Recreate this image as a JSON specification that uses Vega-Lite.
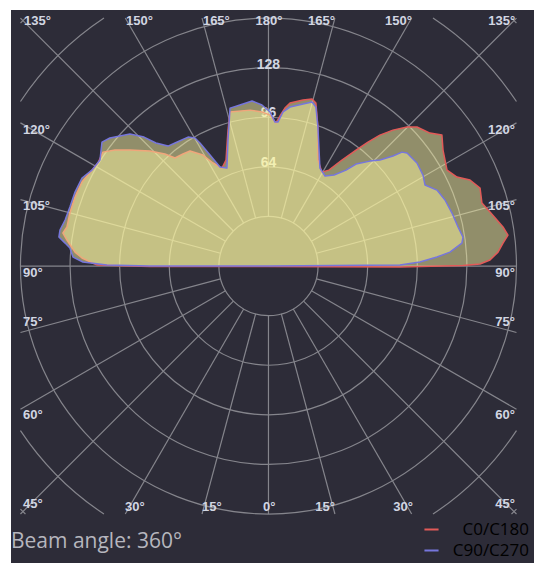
{
  "$schema": "https://vega.github.io/schema/vega-lite/v6.json",
  "width": 523,
  "height": 553,
  "autosize": {"type": "none"},
  "padding": {"left": 11, "top": 10, "right": 0, "bottom": 0},
  "background": "#ffffff",
  "title": {
    "text": "Beam angle: 360°",
    "orient": "bottom",
    "anchor": "start",
    "offset": -32,
    "font": "Open Sans",
    "fontSize": 21,
    "fontWeight": "normal",
    "color": "#b6b6be"
  },
  "config": {
    "view": {"fill": "#2d2c38", "stroke": null}
  },
  "datasets": {
    "rings": [
      {"r": 32, "a0": 0, "a1": 360},
      {"r": 64, "a0": 0, "a1": 360},
      {"r": 96, "a0": 0, "a1": 360},
      {"r": 128, "a0": 0, "a1": 360},
      {"r": 160, "a0": 0, "a1": 360},
      {"r": 192, "a0": 33.56, "a1": 56.44},
      {"r": 192, "a0": 123.56, "a1": 146.44},
      {"r": 192, "a0": 213.56, "a1": 236.44},
      {"r": 192, "a0": 303.56, "a1": 326.44},
      {"r": 224, "a0": 44.42, "a1": 45.58},
      {"r": 224, "a0": 134.42, "a1": 135.58},
      {"r": 224, "a0": 224.42, "a1": 225.58},
      {"r": 224, "a0": 314.42, "a1": 315.58}
    ],
    "spokes": [
      {"x": 0, "y": -32, "x2": 0, "y2": -160},
      {"x": 8.28, "y": -30.91, "x2": 42.87, "y2": -160},
      {"x": 16, "y": -27.71, "x2": 92.38, "y2": -160},
      {"x": 22.63, "y": -22.63, "x2": 160, "y2": -160},
      {"x": 27.71, "y": -16, "x2": 160, "y2": -92.38},
      {"x": 30.91, "y": -8.28, "x2": 160, "y2": -42.87},
      {"x": 32, "y": 0, "x2": 160, "y2": 0},
      {"x": 30.91, "y": 8.28, "x2": 160, "y2": 42.87},
      {"x": 27.71, "y": 16, "x2": 160, "y2": 92.38},
      {"x": 22.63, "y": 22.63, "x2": 160, "y2": 160},
      {"x": 16, "y": 27.71, "x2": 92.38, "y2": 160},
      {"x": 8.28, "y": 30.91, "x2": 42.87, "y2": 160},
      {"x": 0, "y": 32, "x2": 0, "y2": 160},
      {"x": -8.28, "y": -30.91, "x2": -42.87, "y2": -160},
      {"x": -16, "y": -27.71, "x2": -92.38, "y2": -160},
      {"x": -22.63, "y": -22.63, "x2": -160, "y2": -160},
      {"x": -27.71, "y": -16, "x2": -160, "y2": -92.38},
      {"x": -30.91, "y": -8.28, "x2": -160, "y2": -42.87},
      {"x": -32, "y": 0, "x2": -160, "y2": 0},
      {"x": -30.91, "y": 8.28, "x2": -160, "y2": 42.87},
      {"x": -27.71, "y": 16, "x2": -160, "y2": 92.38},
      {"x": -22.63, "y": 22.63, "x2": -160, "y2": 160},
      {"x": -16, "y": 27.71, "x2": -92.38, "y2": 160},
      {"x": -8.28, "y": 30.91, "x2": -42.87, "y2": 160}
    ],
    "labelsLeft": [
      {"x": -157.7, "y": 157.9, "t": "135°"},
      {"x": -91.9, "y": 157.9, "t": "150°"},
      {"x": -42.3, "y": 157.9, "t": "165°"},
      {"x": -158.4, "y": 87.7, "t": "120°"},
      {"x": -158.4, "y": 38.7, "t": "105°"},
      {"x": -158.4, "y": -4.5, "t": "90°"},
      {"x": -158.4, "y": -36.1, "t": "75°"},
      {"x": -158.4, "y": -96.1, "t": "60°"},
      {"x": -158.4, "y": -153.5, "t": "45°"},
      {"x": -92.6, "y": -155.3, "t": "30°"},
      {"x": -42.9, "y": -155.3, "t": "15°"}
    ],
    "labelsCenter": [
      {"x": 0.3, "y": 157.9, "t": "180°"},
      {"x": 0.5, "y": -155.3, "t": "0°"}
    ],
    "labelsRight": [
      {"x": 42.9, "y": 157.9, "t": "165°"},
      {"x": 92.5, "y": 157.9, "t": "150°"},
      {"x": 159.2, "y": 157.9, "t": "135°"},
      {"x": 159.0, "y": 87.7, "t": "120°"},
      {"x": 159.0, "y": 38.7, "t": "105°"},
      {"x": 159.0, "y": -4.5, "t": "90°"},
      {"x": 159.0, "y": -36.1, "t": "75°"},
      {"x": 159.0, "y": -96.1, "t": "60°"},
      {"x": 159.0, "y": -153.5, "t": "45°"},
      {"x": 93.2, "y": -155.3, "t": "30°"},
      {"x": 42.9, "y": -155.3, "t": "15°"}
    ],
    "ringLabels": [
      {"x": 0, "y": 130.0, "t": "128"},
      {"x": 0, "y": 98.7, "t": "96"},
      {"x": 0, "y": 66.5, "t": "64"}
    ],
    "curves": [
      {"series": "C0/C180", "i": 1, "x": -110.6, "y": 0.6},
      {"series": "C0/C180", "i": 2, "x": -120.3, "y": 5.2},
      {"series": "C0/C180", "i": 3, "x": -124.8, "y": 9.0},
      {"series": "C0/C180", "i": 4, "x": -130.0, "y": 16.8},
      {"series": "C0/C180", "i": 5, "x": -132.6, "y": 21.3},
      {"series": "C0/C180", "i": 6, "x": -130.0, "y": 25.2},
      {"series": "C0/C180", "i": 7, "x": -128.1, "y": 34.2},
      {"series": "C0/C180", "i": 8, "x": -124.8, "y": 44.5},
      {"series": "C0/C180", "i": 9, "x": -120.3, "y": 54.2},
      {"series": "C0/C180", "i": 10, "x": -116.5, "y": 58.7},
      {"series": "C0/C180", "i": 11, "x": -110.0, "y": 66.5},
      {"series": "C0/C180", "i": 12, "x": -106.8, "y": 73.5},
      {"series": "C0/C180", "i": 13, "x": -99.0, "y": 74.8},
      {"series": "C0/C180", "i": 14, "x": -89.4, "y": 74.8},
      {"series": "C0/C180", "i": 15, "x": -76.5, "y": 74.2},
      {"series": "C0/C180", "i": 16, "x": -66.8, "y": 72.3},
      {"series": "C0/C180", "i": 17, "x": -60.3, "y": 69.7},
      {"series": "C0/C180", "i": 18, "x": -55.2, "y": 72.3},
      {"series": "C0/C180", "i": 19, "x": -50.6, "y": 74.2},
      {"series": "C0/C180", "i": 20, "x": -42.3, "y": 71.6},
      {"series": "C0/C180", "i": 21, "x": -35.8, "y": 66.5},
      {"series": "C0/C180", "i": 22, "x": -30.0, "y": 63.2},
      {"series": "C0/C180", "i": 23, "x": -27.4, "y": 68.4},
      {"series": "C0/C180", "i": 24, "x": -26.1, "y": 87.7},
      {"series": "C0/C180", "i": 25, "x": -24.8, "y": 99.4},
      {"series": "C0/C180", "i": 26, "x": -11.9, "y": 100.6},
      {"series": "C0/C180", "i": 27, "x": -4.2, "y": 99.4},
      {"series": "C0/C180", "i": 28, "x": 1.0, "y": 97.4},
      {"series": "C0/C180", "i": 29, "x": 4.8, "y": 92.3},
      {"series": "C0/C180", "i": 30, "x": 7.4, "y": 96.8},
      {"series": "C0/C180", "i": 31, "x": 10.6, "y": 101.9},
      {"series": "C0/C180", "i": 32, "x": 13.9, "y": 105.2},
      {"series": "C0/C180", "i": 33, "x": 22.3, "y": 107.1},
      {"series": "C0/C180", "i": 34, "x": 28.1, "y": 107.7},
      {"series": "C0/C180", "i": 35, "x": 30.6, "y": 105.2},
      {"series": "C0/C180", "i": 36, "x": 31.9, "y": 89.7},
      {"series": "C0/C180", "i": 37, "x": 31.9, "y": 68.4},
      {"series": "C0/C180", "i": 38, "x": 34.5, "y": 60.6},
      {"series": "C0/C180", "i": 39, "x": 39.0, "y": 61.9},
      {"series": "C0/C180", "i": 40, "x": 47.4, "y": 68.4},
      {"series": "C0/C180", "i": 41, "x": 56.5, "y": 74.8},
      {"series": "C0/C180", "i": 42, "x": 64.2, "y": 80.0},
      {"series": "C0/C180", "i": 43, "x": 71.9, "y": 84.5},
      {"series": "C0/C180", "i": 44, "x": 80.3, "y": 87.7},
      {"series": "C0/C180", "i": 45, "x": 89.4, "y": 89.7},
      {"series": "C0/C180", "i": 46, "x": 95.8, "y": 89.7},
      {"series": "C0/C180", "i": 47, "x": 104.2, "y": 85.8},
      {"series": "C0/C180", "i": 48, "x": 111.9, "y": 84.5},
      {"series": "C0/C180", "i": 49, "x": 112.6, "y": 74.8},
      {"series": "C0/C180", "i": 50, "x": 115.2, "y": 61.9},
      {"series": "C0/C180", "i": 51, "x": 121.6, "y": 57.4},
      {"series": "C0/C180", "i": 52, "x": 130.0, "y": 55.5},
      {"series": "C0/C180", "i": 53, "x": 136.5, "y": 50.3},
      {"series": "C0/C180", "i": 54, "x": 137.7, "y": 40.6},
      {"series": "C0/C180", "i": 55, "x": 142.9, "y": 34.8},
      {"series": "C0/C180", "i": 56, "x": 147.4, "y": 29.7},
      {"series": "C0/C180", "i": 57, "x": 151.3, "y": 25.2},
      {"series": "C0/C180", "i": 58, "x": 154.5, "y": 20.0},
      {"series": "C0/C180", "i": 59, "x": 151.3, "y": 14.8},
      {"series": "C0/C180", "i": 60, "x": 148.1, "y": 9.0},
      {"series": "C0/C180", "i": 61, "x": 142.9, "y": 3.9},
      {"series": "C0/C180", "i": 62, "x": 136.5, "y": 1.3},
      {"series": "C0/C180", "i": 63, "x": 125.5, "y": 0.3},
      {"series": "C0/C180", "i": 64, "x": 84.8, "y": -0.6},
      {"series": "C0/C180", "i": 65, "x": 0, "y": -0.3},
      {"series": "C0/C180", "i": 66, "x": -76.5, "y": -0.3},
      {"series": "C0/C180", "i": 67, "x": -110.6, "y": 0.6},
      {"series": "C90/C270", "i": 1, "x": -104.2, "y": 0.6},
      {"series": "C90/C270", "i": 2, "x": -119.7, "y": 2.6},
      {"series": "C90/C270", "i": 3, "x": -126.1, "y": 5.8},
      {"series": "C90/C270", "i": 4, "x": -128.1, "y": 11.6},
      {"series": "C90/C270", "i": 5, "x": -131.2, "y": 14.8},
      {"series": "C90/C270", "i": 6, "x": -135.2, "y": 18.7},
      {"series": "C90/C270", "i": 7, "x": -134.5, "y": 23.2},
      {"series": "C90/C270", "i": 8, "x": -131.2, "y": 29.7},
      {"series": "C90/C270", "i": 9, "x": -128.1, "y": 38.1},
      {"series": "C90/C270", "i": 10, "x": -124.8, "y": 47.7},
      {"series": "C90/C270", "i": 11, "x": -120.3, "y": 56.8},
      {"series": "C90/C270", "i": 12, "x": -113.9, "y": 61.9},
      {"series": "C90/C270", "i": 13, "x": -108.7, "y": 68.4},
      {"series": "C90/C270", "i": 14, "x": -107.4, "y": 80.0},
      {"series": "C90/C270", "i": 15, "x": -102.3, "y": 82.6},
      {"series": "C90/C270", "i": 16, "x": -89.4, "y": 85.2},
      {"series": "C90/C270", "i": 17, "x": -80.3, "y": 83.2},
      {"series": "C90/C270", "i": 18, "x": -72.6, "y": 79.4},
      {"series": "C90/C270", "i": 19, "x": -64.8, "y": 77.4},
      {"series": "C90/C270", "i": 20, "x": -60.3, "y": 79.4},
      {"series": "C90/C270", "i": 21, "x": -51.9, "y": 83.2},
      {"series": "C90/C270", "i": 22, "x": -47.4, "y": 82.6},
      {"series": "C90/C270", "i": 23, "x": -44.2, "y": 79.4},
      {"series": "C90/C270", "i": 24, "x": -37.7, "y": 71.6},
      {"series": "C90/C270", "i": 25, "x": -31.3, "y": 63.9},
      {"series": "C90/C270", "i": 26, "x": -26.8, "y": 63.2},
      {"series": "C90/C270", "i": 27, "x": -26.1, "y": 81.3},
      {"series": "C90/C270", "i": 28, "x": -24.8, "y": 101.9},
      {"series": "C90/C270", "i": 29, "x": -18.4, "y": 103.9},
      {"series": "C90/C270", "i": 30, "x": -10.6, "y": 106.5},
      {"series": "C90/C270", "i": 31, "x": -4.2, "y": 103.9},
      {"series": "C90/C270", "i": 32, "x": 1.0, "y": 99.4},
      {"series": "C90/C270", "i": 33, "x": 4.2, "y": 92.9},
      {"series": "C90/C270", "i": 34, "x": 6.1, "y": 92.9},
      {"series": "C90/C270", "i": 35, "x": 9.4, "y": 99.4},
      {"series": "C90/C270", "i": 36, "x": 13.9, "y": 102.6},
      {"series": "C90/C270", "i": 37, "x": 22.3, "y": 104.5},
      {"series": "C90/C270", "i": 38, "x": 28.1, "y": 105.8},
      {"series": "C90/C270", "i": 39, "x": 30.6, "y": 102.6},
      {"series": "C90/C270", "i": 40, "x": 31.9, "y": 89.7},
      {"series": "C90/C270", "i": 41, "x": 33.2, "y": 63.2},
      {"series": "C90/C270", "i": 42, "x": 36.5, "y": 58.1},
      {"series": "C90/C270", "i": 43, "x": 42.3, "y": 58.7},
      {"series": "C90/C270", "i": 44, "x": 50.0, "y": 61.9},
      {"series": "C90/C270", "i": 45, "x": 56.5, "y": 65.8},
      {"series": "C90/C270", "i": 46, "x": 65.5, "y": 67.7},
      {"series": "C90/C270", "i": 47, "x": 71.9, "y": 68.4},
      {"series": "C90/C270", "i": 48, "x": 80.3, "y": 71.0},
      {"series": "C90/C270", "i": 49, "x": 86.1, "y": 73.5},
      {"series": "C90/C270", "i": 50, "x": 89.4, "y": 72.9},
      {"series": "C90/C270", "i": 51, "x": 95.8, "y": 66.5},
      {"series": "C90/C270", "i": 52, "x": 99.7, "y": 58.7},
      {"series": "C90/C270", "i": 53, "x": 101.0, "y": 52.3},
      {"series": "C90/C270", "i": 54, "x": 108.7, "y": 49.0},
      {"series": "C90/C270", "i": 55, "x": 113.9, "y": 42.6},
      {"series": "C90/C270", "i": 56, "x": 118.4, "y": 34.2},
      {"series": "C90/C270", "i": 57, "x": 122.3, "y": 25.2},
      {"series": "C90/C270", "i": 58, "x": 125.5, "y": 18.7},
      {"series": "C90/C270", "i": 59, "x": 124.8, "y": 14.8},
      {"series": "C90/C270", "i": 60, "x": 117.1, "y": 9.0},
      {"series": "C90/C270", "i": 61, "x": 108.7, "y": 5.8},
      {"series": "C90/C270", "i": 62, "x": 97.7, "y": 2.6},
      {"series": "C90/C270", "i": 63, "x": 84.8, "y": 0.6},
      {"series": "C90/C270", "i": 64, "x": 0, "y": 0},
      {"series": "C90/C270", "i": 65, "x": -76.5, "y": 0},
      {"series": "C90/C270", "i": 66, "x": -104.2, "y": 0.6}
    ]
  },
  "layer": [
    {
      "data": {"name": "rings"},
      "mark": {"type": "arc", "filled": false, "stroke": "#85858c", "strokeWidth": 1.2},
      "encoding": {
        "x": {"datum": 0, "type": "quantitative", "scale": {"domain": [-166.1, 171.3], "nice": false, "zero": false}, "axis": null},
        "y": {"datum": 0, "type": "quantitative", "scale": {"domain": [-191.6, 165.2], "nice": false, "zero": false}, "axis": null},
        "radius": {"field": "r", "type": "quantitative", "scale": {"type": "linear", "domain": [0, 160], "range": [0, 248], "zero": true, "nice": false}, "legend": null},
        "radius2": {"field": "r"},
        "theta": {"field": "a0", "type": "quantitative", "stack": null, "scale": {"type": "linear", "domain": [0, 360], "range": [0, 6.283185], "zero": true, "nice": false}, "legend": null},
        "theta2": {"field": "a1"}
      }
    },
    {
      "data": {"name": "spokes"},
      "mark": {"type": "rule", "stroke": "#85858c", "strokeWidth": 1.2},
      "encoding": {
        "x": {"field": "x", "type": "quantitative", "scale": {"domain": [-166.1, 171.3], "nice": false, "zero": false}, "axis": null},
        "y": {"field": "y", "type": "quantitative", "scale": {"domain": [-191.6, 165.2], "nice": false, "zero": false}, "axis": null},
        "x2": {"field": "x2"},
        "y2": {"field": "y2"}
      }
    },
    {
      "mark": {"type": "rect", "filled": false, "stroke": "#8a8a92", "strokeWidth": 1.5},
      "encoding": {
        "x": {"datum": -160, "type": "quantitative", "scale": {"domain": [-166.1, 171.3], "nice": false, "zero": false}, "axis": null},
        "x2": {"datum": 160},
        "y": {"datum": -160, "type": "quantitative", "scale": {"domain": [-191.6, 165.2], "nice": false, "zero": false}, "axis": null},
        "y2": {"datum": 160}
      }
    },
    {
      "data": {"name": "ringLabels"},
      "mark": {"type": "text", "align": "center", "baseline": "middle", "font": "Liberation Sans", "fontSize": 14, "fontWeight": "bold", "fill": "#d2d6e2"},
      "encoding": {
        "x": {"field": "x", "type": "quantitative", "scale": {"domain": [-166.1, 171.3], "nice": false, "zero": false}, "axis": null},
        "y": {"field": "y", "type": "quantitative", "scale": {"domain": [-191.6, 165.2], "nice": false, "zero": false}, "axis": null},
        "text": {"field": "t"}
      }
    },
    {
      "data": {"name": "labelsLeft"},
      "mark": {"type": "text", "align": "left", "baseline": "middle", "font": "Liberation Sans", "fontSize": 13, "fontWeight": "bold", "fill": "#d2d6e2"},
      "encoding": {
        "x": {"field": "x", "type": "quantitative", "scale": {"domain": [-166.1, 171.3], "nice": false, "zero": false}, "axis": null},
        "y": {"field": "y", "type": "quantitative", "scale": {"domain": [-191.6, 165.2], "nice": false, "zero": false}, "axis": null},
        "text": {"field": "t"}
      }
    },
    {
      "data": {"name": "labelsCenter"},
      "mark": {"type": "text", "align": "center", "baseline": "middle", "font": "Liberation Sans", "fontSize": 13, "fontWeight": "bold", "fill": "#d2d6e2"},
      "encoding": {
        "x": {"field": "x", "type": "quantitative", "scale": {"domain": [-166.1, 171.3], "nice": false, "zero": false}, "axis": null},
        "y": {"field": "y", "type": "quantitative", "scale": {"domain": [-191.6, 165.2], "nice": false, "zero": false}, "axis": null},
        "text": {"field": "t"}
      }
    },
    {
      "data": {"name": "labelsRight"},
      "mark": {"type": "text", "align": "right", "baseline": "middle", "font": "Liberation Sans", "fontSize": 13, "fontWeight": "bold", "fill": "#d2d6e2"},
      "encoding": {
        "x": {"field": "x", "type": "quantitative", "scale": {"domain": [-166.1, 171.3], "nice": false, "zero": false}, "axis": null},
        "y": {"field": "y", "type": "quantitative", "scale": {"domain": [-191.6, 165.2], "nice": false, "zero": false}, "axis": null},
        "text": {"field": "t"}
      }
    },
    {
      "data": {"name": "curves"},
      "mark": {"type": "line", "fill": "#fff9a0", "fillOpacity": 0.48, "strokeWidth": 1.5, "strokeJoin": "round"},
      "encoding": {
        "x": {"field": "x", "type": "quantitative", "scale": {"domain": [-166.1, 171.3], "nice": false, "zero": false}, "axis": null},
        "y": {"field": "y", "type": "quantitative", "scale": {"domain": [-191.6, 165.2], "nice": false, "zero": false}, "axis": null},
        "order": {"field": "i", "type": "quantitative"},
        "color": {
          "field": "series",
          "type": "nominal",
          "scale": {"domain": ["C0/C180", "C90/C270"], "range": ["#e25a58", "#7676dc"]},
          "legend": {
            "title": null,
            "orient": "none",
            "legendX": 412,
            "legendY": 511,
            "padding": 0,
            "symbolType": "stroke",
            "symbolSize": 200,
            "symbolStrokeWidth": 2,
            "labelFont": "Open Sans",
            "labelFontSize": 17,
            "labelAlign": "right",
            "labelOffset": 89,
            "labelLimit": 200,
            "rowPadding": 3,
            "encode": {
              "labels": {
                "update": {
                  "fill": {"signal": "datum.label === 'C0/C180' ? '#e0474c' : '#5b5be2'"}
                }
              }
            }
          }
        }
      }
    }
  ]
}
